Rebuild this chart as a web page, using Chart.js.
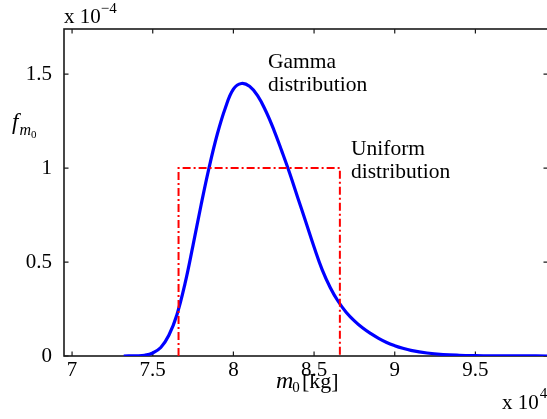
<!DOCTYPE html>
<html>
<head>
<meta charset="utf-8">
<script src="https://cdn.jsdelivr.net/npm/chart.js@4.4.1/dist/chart.umd.min.js"></script>
<style>
  html, body { margin: 0; padding: 0; background: #fff; overflow: hidden; }
  #wrap { position: relative; width: 549px; height: 419px; }
</style>
</head>
<body>
<div id="wrap"><canvas id="pdf"></canvas></div>
<script>
/* Gamma vs uniform prior on m0 — axes shown in units of 1e4 kg and 1e-4 */
const X_TICKS = [7, 7.5, 8, 8.5, 9, 9.5];
const Y_TICKS = [0, 0.5, 1, 1.5];
const X_RANGE = [6.95, 9.95];
const Y_RANGE = [0, 1.74];

// gamma pdf
const gammaMass = [7.32, 7.40, 7.45, 7.50, 7.55, 7.60, 7.65, 7.70, 7.75, 7.80,
  7.85, 7.90, 7.95, 8.00, 8.05, 8.10, 8.15, 8.20, 8.25, 8.30,
  8.35, 8.40, 8.45, 8.50, 8.55, 8.60, 8.65, 8.70, 8.75, 8.80,
  8.85, 8.90, 8.95, 9.00, 9.05, 9.10, 9.20, 9.30, 9.40, 9.50, 9.60, 9.80, 9.95];
const gammaPdf = [0, 0.001, 0.004, 0.016, 0.045, 0.11, 0.22, 0.385, 0.59, 0.805,
  1.005, 1.18, 1.32, 1.42, 1.45, 1.435, 1.385, 1.305, 1.205, 1.09,
  0.97, 0.84, 0.71, 0.58, 0.46, 0.365, 0.29, 0.232, 0.187, 0.15,
  0.12, 0.094, 0.072, 0.055, 0.041, 0.03, 0.016, 0.008, 0.004, 0.002, 0.001, 0.0003, 0.0001];

// uniform pdf on [7.66, 8.66]
const uniformMass = [7.66, 7.66, 8.66, 8.66];
const uniformPdf = [0, 1, 1, 0];

const SERIF = "'Liberation Serif', 'Times New Roman', serif";
Chart.defaults.font.family = SERIF;
Chart.defaults.font.size = 21;
Chart.defaults.color = "#000";

const pts = (xs, ys) => xs.map((x, i) => ({ x, y: ys[i] }));

function fixTicks(vals) {
  return (scale) => { scale.ticks = vals.map((v) => ({ value: v })); };
}

/* MATLAB-style box with inward ticks on all four sides */
const boxPlugin = {
  id: "box",
  beforeDatasetsDraw(chart) {
    const { ctx, chartArea: a, scales } = chart;
    const tl = 4.5;
    ctx.save();
    ctx.strokeStyle = "#1a1a1a";
    ctx.lineWidth = 1.6;
    ctx.strokeRect(a.left, a.top, a.right - a.left, a.bottom - a.top);
    ctx.lineWidth = 1.2;
    ctx.beginPath();
    for (const v of X_TICKS) {
      const px = scales.x.getPixelForValue(v);
      ctx.moveTo(px, a.bottom); ctx.lineTo(px, a.bottom - tl);
      ctx.moveTo(px, a.top); ctx.lineTo(px, a.top + tl);
    }
    for (const v of Y_TICKS) {
      const py = scales.y.getPixelForValue(v);
      ctx.moveTo(a.left, py); ctx.lineTo(a.left + tl, py);
      ctx.moveTo(a.right, py); ctx.lineTo(a.right - tl, py);
    }
    ctx.stroke();
    ctx.restore();
  },
  afterDraw(chart) {
    const { ctx } = chart;
    const txt = (s, x, y, font) => { ctx.font = font; ctx.fillText(s, x, y); return ctx.measureText(s).width; };
    const up = `21px ${SERIF}`, note = `21.5px ${SERIF}`, sm = `15px ${SERIF}`;
    ctx.save();
    ctx.fillStyle = "#000";
    ctx.textBaseline = "alphabetic";
    // multipliers
    let w = txt("x 10", 64, 23, up);
    txt("\u22124", 64 + w, 13, sm);
    w = txt("x 10", 502, 409, up);
    txt("4", 502 + w + 1, 398, sm);
    // axis labels
    w = txt("f", 12, 129, `italic 23px ${SERIF}`);
    w += txt("m", 12 + w + 1, 135, `italic 16px ${SERIF}`);
    txt("0", 12 + w + 1, 138, `11px ${SERIF}`);
    w = txt("m", 276, 388, `italic 24px ${SERIF}`);
    txt("0", 276 + w - 1, 392, `15px ${SERIF}`);
    txt("[kg]", 302, 388, `22px ${SERIF}`);
    // annotations
    txt("Gamma", 268, 68, note);
    txt("distribution", 268, 91, note);
    txt("Uniform", 351, 155, note);
    txt("distribution", 351, 178, note);
    ctx.restore();
  },
};

new Chart(document.getElementById("pdf"), {
  type: "scatter",
  data: {
    datasets: [
      {
        label: "Uniform distribution",
        data: pts(uniformMass, uniformPdf),
        showLine: true, borderColor: "#ff0000", borderWidth: 2,
        borderDash: [8, 3, 2, 3], pointRadius: 0, tension: 0, order: 0,
      },
      {
        label: "Gamma distribution",
        data: pts(gammaMass, gammaPdf),
        showLine: true, borderColor: "#0000ff", borderWidth: 3.2,
        tension: 0.4, pointRadius: 0, order: 1,
      },
    ],
  },
  options: {
    responsive: true, maintainAspectRatio: false, animation: false,
    layout: { padding: { top: 29, right: 1, left: 0, bottom: 0 } },
    plugins: { legend: { display: false }, tooltip: { enabled: false } },
    scales: {
      x: {
        type: "linear", min: X_RANGE[0], max: X_RANGE[1],
        afterBuildTicks: fixTicks(X_TICKS),
        afterFit: (s) => { s.height = 63; },
        grid: { display: false }, border: { display: false },
        ticks: { padding: -6, maxRotation: 0, autoSkip: false, callback: (v) => String(v) },
      },
      y: {
        min: Y_RANGE[0], max: Y_RANGE[1],
        afterBuildTicks: fixTicks(Y_TICKS),
        afterFit: (s) => { s.width = 64; },
        grid: { display: false }, border: { display: false },
        ticks: { padding: 4, callback: (v) => String(v) },
      },
    },
  },
  plugins: [boxPlugin],
});
</script>
</body>
</html>
